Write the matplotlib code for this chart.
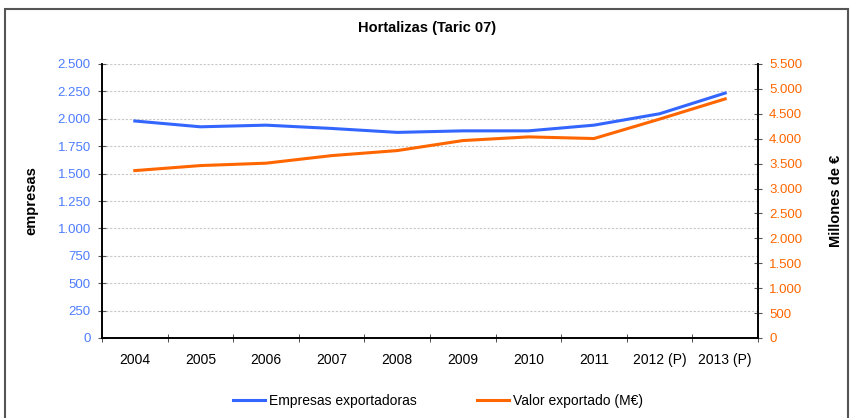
import matplotlib
matplotlib.use("Agg")
import matplotlib.pyplot as plt
from matplotlib.ticker import FuncFormatter, FixedLocator
from matplotlib.patches import Rectangle
import numpy as np

plt.rcParams['font.family'] = ['Liberation Sans', 'DejaVu Sans']

# ── Data ──────────────────────────────────────────────────────────────────────
years = ['2004', '2005', '2006', '2007', '2008', '2009', '2010', '2011',
         '2012 (P)', '2013 (P)']
empresas = [1980, 1927, 1942, 1912, 1876, 1890, 1890, 1942, 2046, 2235]
valor_meur = [3360, 3461, 3509, 3661, 3762, 3963, 4037, 4004, 4394, 4800]

BLUE = '#3366FF'
ORANGE = '#FF6600'
BLUE_TXT = '#4D7CFF'


def thousands(v, pos):
    return f"{int(round(v)):,}".replace(',', '.')


fig = plt.figure(figsize=(8.54, 4.18), dpi=100)
fig.patches.append(Rectangle((5 / 854, -0.05), 843 / 854, 1 - 9 / 418 + 0.05,
                             transform=fig.transFigure, fill=False,
                             edgecolor='#555555', linewidth=1.5))

ax = fig.add_axes([102 / 854, 1 - 338 / 418, 656 / 854, 274 / 418])
ax2 = ax.twinx()

x = np.arange(len(years))
l1, = ax.plot(x, empresas, color=BLUE, linewidth=2.2, label='Empresas exportadoras')
l2, = ax2.plot(x, valor_meur, color=ORANGE, linewidth=2.2, label='Valor exportado (M€)')

ax.set_xlim(-0.5, len(years) - 0.5)
ax.set_ylim(0, 2500)
ax2.set_ylim(0, 5500)
ax.set_yticks(np.arange(0, 2501, 250))
ax2.set_yticks(np.arange(0, 5501, 500))
ax.yaxis.set_major_formatter(FuncFormatter(thousands))
ax2.yaxis.set_major_formatter(FuncFormatter(thousands))

ax.set_xticks(x)
ax.set_xticklabels(years, fontsize=10, va='center_baseline')
ax.xaxis.set_minor_locator(FixedLocator(np.arange(-0.5, len(years), 1.0)))
ax.tick_params(axis='x', which='major', length=0, pad=15)
ax.tick_params(axis='x', which='minor', length=6, direction='inout', color='#333333')

ax.tick_params(axis='y', labelsize=9.5, labelcolor=BLUE_TXT, direction='inout',
               length=6, color='#555555', pad=5)
ax2.tick_params(axis='y', labelsize=9.5, labelcolor=ORANGE, direction='inout',
                length=6, color='#555555', pad=5)

ax.grid(axis='y', linestyle=(0, (2, 1.5)), color='#c8c8c8', linewidth=0.8)
ax.set_axisbelow(True)

for a in (ax, ax2):
    a.spines['top'].set_visible(False)
    a.spines['left'].set_linewidth(1.2)
    a.spines['right'].set_linewidth(1.2)
    a.spines['bottom'].set_linewidth(1.2)

ax.set_ylabel('empresas', fontsize=10.5, fontweight='bold')
ax2.set_ylabel('Millones de €', fontsize=10.5, fontweight='bold', rotation=90)
ax.yaxis.set_label_coords(-0.097, 0.5)
ax2.yaxis.set_label_coords(1.108, 0.5)

fig.text(0.5, 1 - 28 / 418, 'Hortalizas (Taric 07)', ha='center', va='center',
         fontsize=10.5, fontweight='bold')

fig.legend(handles=[l1, l2], loc='center', bbox_to_anchor=(438 / 854, 1 - 401 / 418),
           ncol=2, frameon=False, fontsize=10, handlelength=2.3,
           columnspacing=4.4, handletextpad=0.25)

fig.savefig('out.png', dpi=100)
